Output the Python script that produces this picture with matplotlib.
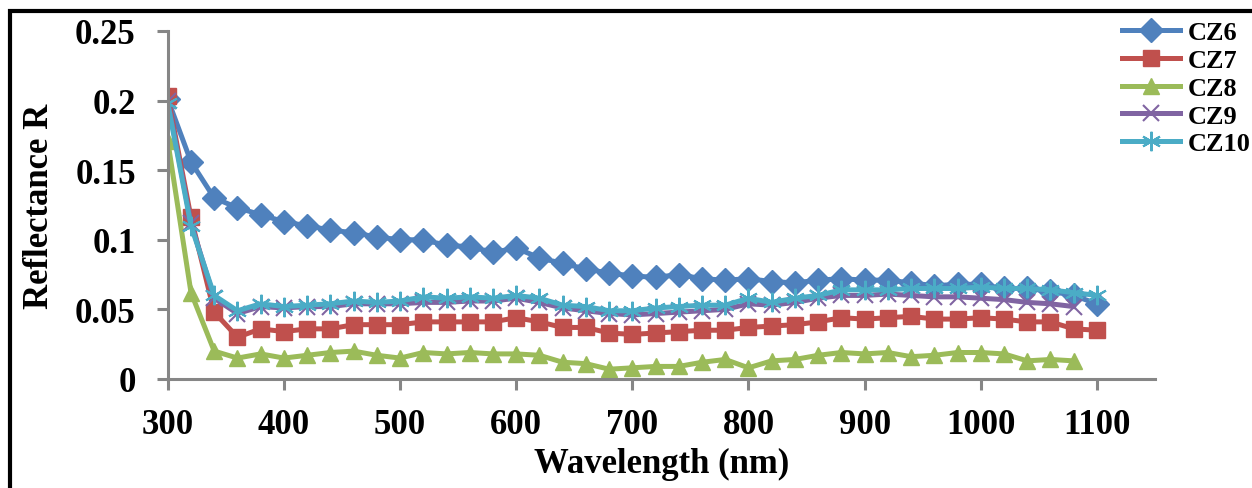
import numpy as np
import matplotlib
matplotlib.use('Agg')
import matplotlib.pyplot as plt
from matplotlib.patches import Rectangle

# data
wl = np.arange(300, 1101, 20)
wl_short = np.arange(300, 1081, 20)

cz6 = [0.201, 0.156, 0.130, 0.123, 0.118, 0.113, 0.110, 0.107, 0.105, 0.102,
       0.100, 0.100, 0.096, 0.095, 0.091, 0.094, 0.087, 0.083, 0.079, 0.076,
       0.074, 0.073, 0.075, 0.072, 0.071, 0.072, 0.070, 0.069, 0.071, 0.072,
       0.071, 0.071, 0.069, 0.067, 0.068, 0.068, 0.065, 0.065, 0.063, 0.060,
       0.054]
cz7 = [0.203, 0.116, 0.048, 0.030, 0.036, 0.034, 0.036, 0.036, 0.039, 0.039,
       0.039, 0.041, 0.041, 0.041, 0.041, 0.044, 0.041, 0.037, 0.037, 0.033,
       0.032, 0.033, 0.034, 0.035, 0.035, 0.037, 0.038, 0.039, 0.041, 0.044,
       0.043, 0.044, 0.045, 0.043, 0.043, 0.044, 0.043, 0.041, 0.041, 0.036,
       0.035]
cz8 = [0.171, 0.062, 0.020, 0.015, 0.018, 0.015, 0.017, 0.019, 0.020, 0.017,
       0.015, 0.019, 0.018, 0.019, 0.018, 0.018, 0.017, 0.012, 0.011, 0.007,
       0.008, 0.009, 0.009, 0.012, 0.014, 0.008, 0.013, 0.014, 0.017, 0.019,
       0.018, 0.019, 0.016, 0.017, 0.019, 0.019, 0.018, 0.013, 0.014, 0.013]
cz9 = [0.200, 0.112, 0.058, 0.047, 0.052, 0.051, 0.052, 0.052, 0.054, 0.054,
       0.054, 0.055, 0.055, 0.056, 0.056, 0.058, 0.055, 0.051, 0.049, 0.047,
       0.046, 0.047, 0.048, 0.049, 0.050, 0.054, 0.053, 0.055, 0.058, 0.060,
       0.060, 0.061, 0.060, 0.059, 0.059, 0.058, 0.057, 0.055, 0.054, 0.052]
cz10 = [0.198, 0.110, 0.060, 0.049, 0.054, 0.052, 0.053, 0.054, 0.056, 0.055,
        0.056, 0.059, 0.058, 0.059, 0.058, 0.060, 0.058, 0.053, 0.052, 0.049,
        0.049, 0.051, 0.052, 0.053, 0.053, 0.058, 0.055, 0.058, 0.060, 0.064,
        0.064, 0.064, 0.065, 0.065, 0.065, 0.066, 0.065, 0.065, 0.064, 0.062,
        0.060]

xticks = [300, 400, 500, 600, 700, 800, 900, 1000, 1100]
yticks = [0, 0.05, 0.1, 0.15, 0.2, 0.25]
ylabels = ['0', '0.05', '0.1', '0.15', '0.2', '0.25']

plt.rcParams['font.family'] = ['Liberation Serif', 'DejaVu Serif']
plt.rcParams['font.weight'] = 'bold'

fig = plt.figure(figsize=(12.52, 4.89), dpi=100)
ax = fig.add_axes([0.134, 0.223, 0.7885, 0.7116])

lw = 3.6
ax.plot(wl, cz6, '-D', color='#4F81BD', lw=lw, ms=12, label='CZ6')
ax.plot(wl, cz7, '-s', color='#C0504D', lw=lw, ms=12, label='CZ7')
ax.plot(wl_short, cz8, '-^', color='#9BBB59', lw=lw, ms=12, label='CZ8')
ax.plot(wl_short, cz9, '-x', color='#8064A2', lw=lw, ms=12, mew=1.5, label='CZ9')
ax.plot(wl, cz10, '-', marker=(6, 2, 0), color='#4BACC6', lw=lw, ms=14, mew=1.5,
        label='CZ10')

ax.set_xlim(300, 1150)
ax.set_ylim(0, 0.25)
ax.set_xticks(xticks)
ax.set_yticks(yticks)
ax.set_yticklabels(ylabels)
ax.tick_params(labelsize=25, length=8, width=2.2, color='#868686')
ax.tick_params(axis='y', pad=15)
ax.tick_params(axis='x', pad=13)
for s in ['top', 'right']:
    ax.spines[s].set_visible(False)
for s in ['left', 'bottom']:
    ax.spines[s].set_color('#868686')
    ax.spines[s].set_linewidth(2.2)
    ax.spines[s].set_clip_on(False)

ax.set_xlabel('Wavelength (nm)', fontsize=25, fontweight='bold', labelpad=4)
ax.set_ylabel('Reflectance R', fontsize=25, fontweight='bold', labelpad=14)

ax.legend(loc='upper left', bbox_to_anchor=(1122 / 1252, 1 - 22 / 489),
          bbox_transform=fig.transFigure, frameon=False, fontsize=19,
          handlelength=2.2, labelspacing=0.16, handletextpad=0.3,
          borderaxespad=0, borderpad=0)

fig.patches.append(Rectangle((10 / 1252, -0.1), 1.2, 0.1 + 1 - 12 / 489,
                             transform=fig.transFigure, fill=False,
                             edgecolor='black', lw=3))

fig.savefig('out.png', dpi=100)
